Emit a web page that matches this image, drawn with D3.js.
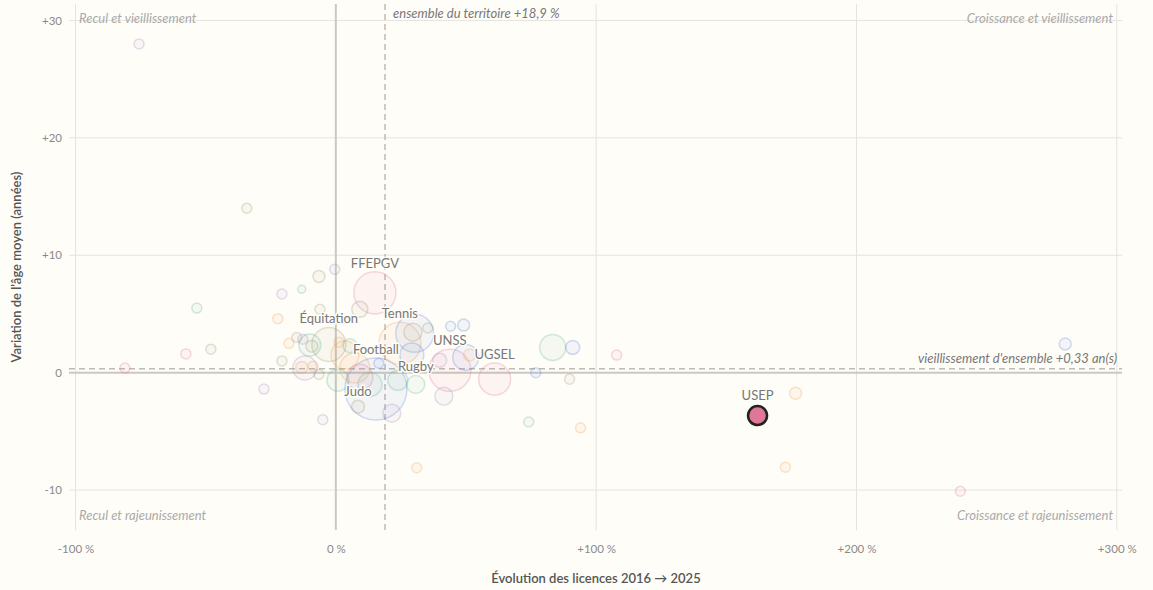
<!DOCTYPE html>
<html>
<head>
<meta charset="utf-8">
<script src="https://cdn.jsdelivr.net/npm/d3@7"></script>
<style>
  body { margin: 0; background: #fffdf8; }
  svg { font-family: Lato, "Noto Sans", sans-serif; display: block; }
</style>
</head>
<body>
<svg id="chart" width="1153" height="590"></svg>
<script>
// fédérations : évolution des licences (%) / variation de l'âge moyen (années)
const names = ["F01","F02","F03","F04","F05","F06","F07","F08","F09","F10",
  "F11","F12","F13","F14","F15","F16","F17","F18","F19","F20",
  "F21","F22","F23","F24","F25","F26","F27","F28","F29","UGSEL",
  "UNSS","F32","F33","Rugby","Tennis","F36","Football","Judo","Équitation","F40",
  "F41","F42","F43","FFEPGV","F45","F46","F47","F48","F49","F50",
  "F51","F52","F53","F54","F55","F56","F57","F58","F59","F60",
  "F61","F62","F63","F64","F65"];
const evolution = [-75.6,-34.2,-53.4,-20.7,-13.1,-6.5,-0.4,-6.1,-22.3,-57.6,
  -48.0,-81.0,-20.7,-27.6,-5.0,74.1,94.0,31.1,76.8,89.8,
  107.9,176.6,172.7,239.9,280.2,83.3,91.0,49.1,44.1,61.0,
  43.8,41.5,21.5,30.7,24.6,30.3,15.4,8.5,-2.7,-11.9,
  0.8,9.2,9.2,15.0,-15.0,-12.7,-18.0,-9.2,-8.8,-6.5,
  -13.1,35.3,29.6,39.9,49.9,51.4,29.2,23.8,16.5,1.2,
  5.4,13.1,3.5,7.3,-10.0];
const ageDelta = [28.0,14.0,5.5,6.7,7.1,8.2,8.8,5.4,4.6,1.6,
  2.0,0.4,1.0,-1.4,-4.0,-4.2,-4.7,-8.1,0.0,-0.55,
  1.5,-1.75,-8.05,-10.1,2.45,2.15,2.15,4.05,3.95,-0.55,
  0.2,-2.0,-3.45,-1.0,2.5,3.35,-1.4,-2.9,2.4,0.4,
  -0.65,-0.4,5.4,6.8,3.0,2.85,2.5,2.25,0.55,-0.15,
  0.45,3.8,3.45,1.05,1.3,1.5,1.5,-0.65,0.8,2.6,
  2.3,-1.0,1.5,0.4,2.35];
const licences = [60000,60000,60000,60000,38000,86000,60000,60000,60000,60000,
  60000,60000,60000,60000,60000,60000,60000,60000,60000,60000,
  60000,86000,60000,60000,86000,404000,117000,86000,60000,613000,
  1060000,194000,194000,194000,1060000,864000,2300000,100000,692000,345000,
  290000,404000,153000,1060000,60000,60000,60000,86000,60000,60000,
  86000,60000,194000,117000,404000,86000,345000,239000,60000,60000,
  117000,345000,470000,540000,290000];
const families = ["violet","olive","vert","violet","vert","olive","violet","olive","orange","rose",
  "olive","rose","olive","violet","violet","vert","orange","orange","bleu","olive",
  "rose","orange","orange","rose","bleu","vert","bleu","bleu","bleu","rose",
  "rose","violet","violet","vert","orange","bleu","bleu","olive","olive","violet",
  "vert","rose","olive","rose","olive","violet","orange","olive","orange","olive",
  "orange","olive","olive","violet","bleu","orange","bleu","vert","bleu","orange",
  "vert","vert","orange","orange","vert"];
const labelled = ["FFEPGV","Tennis","Équitation","UNSS","Football","UGSEL","Rugby","Judo"];

// fédération mise en avant
const focusName = "USEP";
const focusEvolution = 162.0;
const focusAge = -3.65;

const refEvolution = 18.9;
const refAge = 0.33;

const xTicks = [-100, 0, 100, 200, 300];
const yTicks = [-10, 0, 10, 20, 30];

const familyKeys = ["rose","vert","bleu","orange","olive","violet"];
const familyColors = ["#e07799","#5fb88f","#5b86e0","#f0a050","#9a9870","#a58ac9"];

const svg = d3.select("#chart");
const bg = "#fffdf8";

let x = d3.scaleLinear().domain([-102.5, 302]).range([69, 1122]);
let y = d3.scaleLinear().domain([-13.4, 31.4]).range([530, 4]);
let r = d3.scaleSqrt().domain([0, 2300000]).range([0, 31]);
let color = d3.scaleOrdinal().domain(familyKeys).range(familyColors);

let fmtX = (d)=> (d > 0 ? "+" : "") + d + " %";
let fmtY = (d)=> (d > 0 ? "+" : "") + d;

// grille
let grid = svg.append("g");
grid.selectAll(".vx").data(xTicks.filter(d => d !== 0)).enter().append("line")
  .attr("x1", d => x(d)).attr("x2", d => x(d))
  .attr("y1", y.range()[1]).attr("y2", y.range()[0])
  .attr("stroke", "#e6e4de").attr("stroke-width", 1);
grid.selectAll(".hy").data(yTicks.filter(d => d !== 0)).enter().append("line")
  .attr("x1", x.range()[0]).attr("x2", x.range()[1])
  .attr("y1", d => y(d)).attr("y2", d => y(d))
  .attr("stroke", "#e6e4de").attr("stroke-width", 1);

// axes zéro
grid.append("line")
  .attr("x1", x(0)).attr("x2", x(0)).attr("y1", y.range()[1]).attr("y2", y.range()[0])
  .attr("stroke", "#cbc9bf").attr("stroke-width", 2);
grid.append("line")
  .attr("x1", x.range()[0]).attr("x2", x.range()[1]).attr("y1", y(0)).attr("y2", y(0))
  .attr("stroke", "#cbc9bf").attr("stroke-width", 2);

// références
grid.append("line")
  .attr("x1", x(refEvolution)).attr("x2", x(refEvolution)).attr("y1", y.range()[1]).attr("y2", y.range()[0])
  .attr("stroke", "#bdbbb4").attr("stroke-width", 1.5).attr("stroke-dasharray", "6,4");
grid.append("line")
  .attr("x1", x.range()[0]).attr("x2", x.range()[1]).attr("y1", y(refAge)).attr("y2", y(refAge))
  .attr("stroke", "#bdbbb4").attr("stroke-width", 1.5).attr("stroke-dasharray", "6,4");

// graduations
let xAxis = svg.append("g")
  .attr("transform", "translate(0,549)")
  .call(d3.axisBottom(x).tickValues(xTicks).tickFormat(fmtX).tickSize(0));
let yAxis = svg.append("g")
  .attr("transform", "translate(62,0)")
  .call(d3.axisLeft(y).tickValues(yTicks).tickFormat(fmtY).tickSize(0));
[xAxis, yAxis].forEach(a => {
  a.select(".domain").remove();
  a.selectAll("text").attr("fill", "#8a8a8a").attr("font-size", 11.5)
    .attr("font-family", "Lato, 'Noto Sans', sans-serif");
});
xAxis.selectAll("text").attr("dy", "0.35em").attr("y", 0);
yAxis.selectAll("text").attr("x", 0);

// titres d'axes
svg.append("text")
  .attr("x", 596).attr("y", 583)
  .attr("text-anchor", "middle").attr("font-size", 13).attr("font-weight", 600).attr("fill", "#555")
  .text("Évolution des licences 2016 → 2025");
svg.append("text")
  .attr("transform", "translate(21,267) rotate(-90)")
  .attr("text-anchor", "middle").attr("font-size", 13).attr("font-weight", 600).attr("fill", "#555")
  .text("Variation de l'âge moyen (années)");

// quadrants
let quad = [
  {t: "Recul et vieillissement", x: 79, y: 23, a: "start"},
  {t: "Croissance et vieillissement", x: 1113, y: 23, a: "end"},
  {t: "Recul et rajeunissement", x: 79, y: 520, a: "start"},
  {t: "Croissance et rajeunissement", x: 1113, y: 520, a: "end"}
];
svg.selectAll(".quad").data(quad).enter().append("text")
  .attr("x", d => d.x).attr("y", d => d.y).attr("text-anchor", d => d.a)
  .attr("font-size", 13).attr("font-style", "italic").attr("fill", "#aaa")
  .text(d => d.t);

svg.append("text")
  .attr("x", x(refEvolution) + 8).attr("y", 18)
  .attr("font-size", 13).attr("font-style", "italic").attr("fill", "#777")
  .text("ensemble du territoire +18,9 %");
svg.append("text")
  .attr("x", 1117).attr("y", y(refAge) - 6)
  .attr("text-anchor", "end")
  .attr("font-size", 13).attr("font-style", "italic").attr("fill", "#777")
  .text("vieillissement d'ensemble +0,33 an(s)");

// bulles
let data = names.map((n, i) => ({
  name: n, ev: evolution[i], age: ageDelta[i], lic: licences[i], fam: families[i]
}));
data.sort((a, b) => b.lic - a.lic);

svg.append("g").selectAll("circle")
  .data(data).enter().append("circle")
  .attr("cx", d => x(d.ev))
  .attr("cy", d => y(d.age))
  .attr("r", d => r(d.lic))
  .attr("fill", d => color(d.fam)).attr("fill-opacity", 0.07)
  .attr("stroke", d => color(d.fam)).attr("stroke-opacity", 0.28).attr("stroke-width", 1.5);

// étiquettes
svg.append("g").selectAll("text")
  .data(data.filter(d => labelled.includes(d.name))).enter().append("text")
  .attr("x", d => x(d.ev))
  .attr("y", d => y(d.age) - r(d.lic) - 4)
  .attr("text-anchor", "middle").attr("font-size", 13).attr("fill", "#777")
  .attr("stroke", bg).attr("stroke-width", 3).attr("paint-order", "stroke")
  .text(d => d.name);

// USEP
svg.append("circle")
  .attr("cx", x(focusEvolution)).attr("cy", y(focusAge)).attr("r", 9.5)
  .attr("fill", "#e07799").attr("stroke", "#222").attr("stroke-width", 2.5);
svg.append("text")
  .attr("x", x(focusEvolution)).attr("y", y(focusAge) - 16)
  .attr("text-anchor", "middle").attr("font-size", 13).attr("fill", "#777")
  .attr("stroke", bg).attr("stroke-width", 3).attr("paint-order", "stroke")
  .text(focusName);
</script>
</body>
</html>
